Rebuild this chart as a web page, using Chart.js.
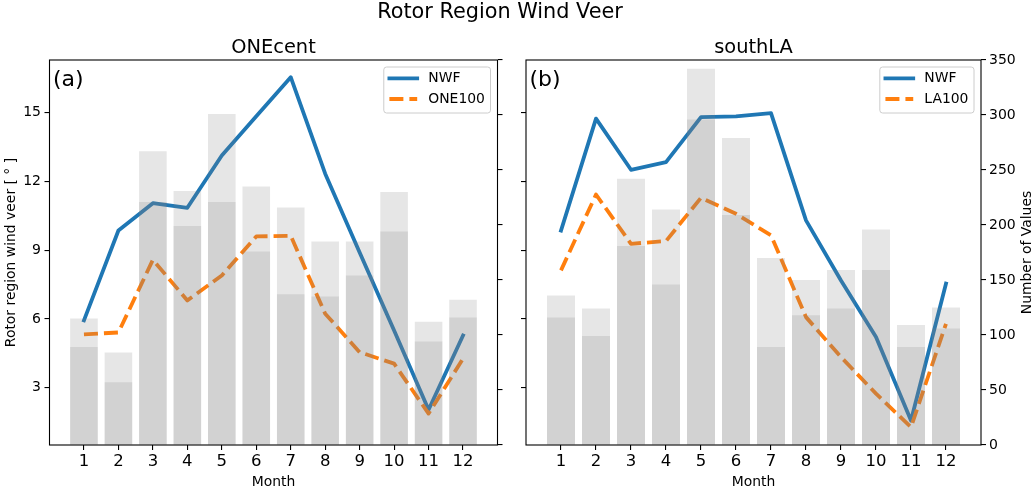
<!DOCTYPE html>
<html><head><meta charset="utf-8">
<script src="https://cdn.jsdelivr.net/npm/chart.js@4/dist/chart.umd.min.js"></script>
<style>
html,body{margin:0;padding:0;background:#fff;}
#wrap{position:relative;width:1033px;height:487px;overflow:hidden;background:#fff;}
#wrap canvas{position:absolute;left:0;top:0;}
</style></head>
<body>
<div id="wrap"><canvas id="c1" width="1033" height="487"></canvas><canvas id="c2" width="1033" height="487"></canvas></div>
<script>
const months = [1,2,3,4,5,6,7,8,9,10,11,12];
const veerTicks = [3,6,9,12,15];
const countTicks = [0,50,100,150,200,250,300,350];

// ONEcent
const oneNWF   = [5.94, 9.86, 11.05, 10.85, 13.13, 14.85, 16.55, 12.34, 8.9, 5.5, 2.04, 5.28];
const one100   = [5.33, 5.41, 8.58, 6.81, 7.9, 9.6, 9.63, 6.23, 4.55, 4.05, 1.87, 4.27];
const oneCountAll = [115, 84, 267, 231, 301, 235, 216, 185, 185, 230, 112, 132];
const oneCountSub = [89, 57, 221, 199, 221, 176, 137, 135, 154, 194, 94, 116];

// southLA
const laNWF   = [9.86, 14.74, 12.51, 12.84, 14.81, 14.84, 14.98, 10.3, 7.68, 5.21, 1.57, 7.54];
const la100   = [8.12, 11.43, 9.28, 9.4, 11.29, 10.59, 9.65, 6.08, 4.34, 2.74, 1.28, 5.79];
const laCountAll = [136, 124, 242, 214, 342, 279, 170, 150, 159, 196, 109, 125];
const laCountSub = [116, 99, 181, 146, 296, 209, 89, 118, 124, 159, 89, 106];

const FONT = "'DejaVu Sans', sans-serif";
const BLUE = '#1f77b4', ORANGE = '#ff7f0e';
const BARC = 'rgba(128,128,128,0.2)';
const DASH = [14, 6];

function pts(vals){ return months.map((m,i)=>({x:m, y:vals[i]})); }

function decoPlugin(o){
  return { id:'deco', afterDraw(chart){
    const ctx = chart.ctx, a = chart.chartArea;
    ctx.save();
    ctx.strokeStyle = '#000'; ctx.lineWidth = 1.1;
    ctx.strokeRect(a.left, a.top, a.right-a.left, a.bottom-a.top);
    ctx.fillStyle = '#000';
    ctx.textAlign = 'center'; ctx.textBaseline = 'alphabetic';
    ctx.font = `19.4px ${FONT}`;
    ctx.fillText(o.title, (a.left+a.right)/2, 53);
    if (o.sup){ ctx.font = `20.8px ${FONT}`; ctx.fillText(o.sup, 500, 18); }
    ctx.font = `13.9px ${FONT}`;
    ctx.fillText('Month', (a.left+a.right)/2, 486);
    if (o.yLeft){
      ctx.save(); ctx.translate(14.5, (a.top+a.bottom)/2); ctx.rotate(-Math.PI/2);
      ctx.fillText(o.yLeft, 0, 0); ctx.restore();
    }
    if (o.yRight){
      ctx.save(); ctx.translate(1031, (a.top+a.bottom)/2); ctx.rotate(-Math.PI/2);
      ctx.fillText(o.yRight, 0, 0); ctx.restore();
    }
    ctx.textAlign = 'left';
    ctx.font = `22px ${FONT}`;
    ctx.fillText(o.panel, a.left+3.5, 86.4);
    // legend
    const items = chart.data.datasets.filter(d=>d.type==='line');
    ctx.font = `13.9px ${FONT}`;
    let tw = 0; items.forEach(d=>{ tw = Math.max(tw, ctx.measureText(d.label).width); });
    const pad = 5.6, hl = 27.8, tp = 11.1;
    const w = pad + hl + tp + tw + pad, h = 46;
    const x0 = a.right - 7 - w, y0 = a.top + 7;
    ctx.beginPath();
    if (ctx.roundRect) ctx.roundRect(x0, y0, w, h, 2.8); else ctx.rect(x0, y0, w, h);
    ctx.fillStyle = 'rgba(255,255,255,0.8)'; ctx.fill();
    ctx.strokeStyle = '#cccccc'; ctx.lineWidth = 1; ctx.stroke();
    const rows = [y0+11.3, y0+32];
    items.forEach((d,i)=>{
      const y = rows[i];
      ctx.beginPath();
      ctx.strokeStyle = d.borderColor; ctx.lineWidth = d.borderWidth;
      ctx.setLineDash(d.borderDash || []);
      ctx.lineCap = d.borderDash ? 'butt' : 'square';
      ctx.moveTo(x0+pad, y); ctx.lineTo(x0+pad+hl, y); ctx.stroke();
      ctx.setLineDash([]);
      ctx.fillStyle = '#000'; ctx.textBaseline = 'middle';
      ctx.fillText(d.label, x0+pad+hl+tp, y+0.5);
    });
    ctx.restore();
  }};
}

function tickGrid(){ return {display:true, drawOnChartArea:false, drawTicks:true, tickLength:5, color:'#000', lineWidth:1.1}; }

function makeChart(id, o){
  const leftLabels = o.leftLabels, rightLabels = o.rightLabels;
  return new Chart(document.getElementById(id), {
    type: 'line',
    data: { datasets: [
      {type:'line', label:'NWF', data:pts(o.nwf), borderColor:BLUE, borderWidth:3.8, pointRadius:0, yAxisID:'y', order:3, borderCapStyle:'square', borderJoinStyle:'round', tension:0, fill:false},
      {type:'line', label:o.refLabel, data:pts(o.ref), borderColor:ORANGE, borderWidth:3.8, borderDash:DASH, pointRadius:0, yAxisID:'y', order:2, borderCapStyle:'butt', borderJoinStyle:'round', tension:0, fill:false},
      {type:'bar', label:'all', data:pts(o.all), backgroundColor:BARC, yAxisID:'y2', grouped:false, barPercentage:0.8, categoryPercentage:1.0, order:1},
      {type:'bar', label:'sub', data:pts(o.sub), backgroundColor:BARC, yAxisID:'y2', grouped:false, barPercentage:0.8, categoryPercentage:1.0, order:0}
    ]},
    options: {
      responsive:false, animation:false, devicePixelRatio:1,
      layout:{padding:o.padding},
      plugins:{legend:{display:false}, tooltip:{enabled:false}, title:{display:false}},
      scales:{
        x:{type:'linear', min:0, max:13, offset:false,
           afterBuildTicks:s=>{ s.ticks = months.map(v=>({value:v})); },
           afterFit:s=>{ s.height = 42; },
           grid:Object.assign(tickGrid(), {offset:false}), border:{display:false},
           ticks:{font:{family:FONT, size:16.5}, color:'#000', padding:2, maxRotation:0, autoSkip:false, callback:v=>String(v)}},
        y:{type:'linear', position:'left', min:0.5, max:17.3,
           afterBuildTicks:s=>{ s.ticks = veerTicks.map(v=>({value:v})); },
           afterFit:s=>{ s.width = o.leftW; },
           grid:tickGrid(), border:{display:false},
           ticks:{font:{family:FONT, size:14}, color: leftLabels ? '#000' : 'rgba(0,0,0,0)', padding:3.5, callback:v=>String(v)}},
        y2:{type:'linear', position:'right', min:0, max:350,
           afterBuildTicks:s=>{ s.ticks = countTicks.map(v=>({value:v})); },
           afterFit:s=>{ s.width = o.rightW; },
           grid:tickGrid(), border:{display:false},
           ticks:{font:{family:FONT, size:14}, color: rightLabels ? '#000' : 'rgba(0,0,0,0)', padding:3, callback:v=>String(v)}}
      }
    },
    plugins:[decoPlugin(o)]
  });
}

makeChart('c1', {nwf:oneNWF, ref:one100, refLabel:'ONE100', all:oneCountAll, sub:oneCountSub,
  padding:{left:0, right:516, top:60, bottom:0}, leftW:49.5, rightW:19.5, leftLabels:true, rightLabels:false,
  title:'ONEcent', panel:'(a)', sup:'Rotor Region Wind Veer', yLeft:'Rotor region wind veer [ ° ]'});
makeChart('c2', {nwf:laNWF, ref:la100, refLabel:'LA100', all:laCountAll, sub:laCountSub,
  padding:{left:517, right:0, top:60, bottom:0}, leftW:9, rightW:52, leftLabels:false, rightLabels:true,
  title:'southLA', panel:'(b)', yRight:'Number of Values'});
</script>
</body></html>
